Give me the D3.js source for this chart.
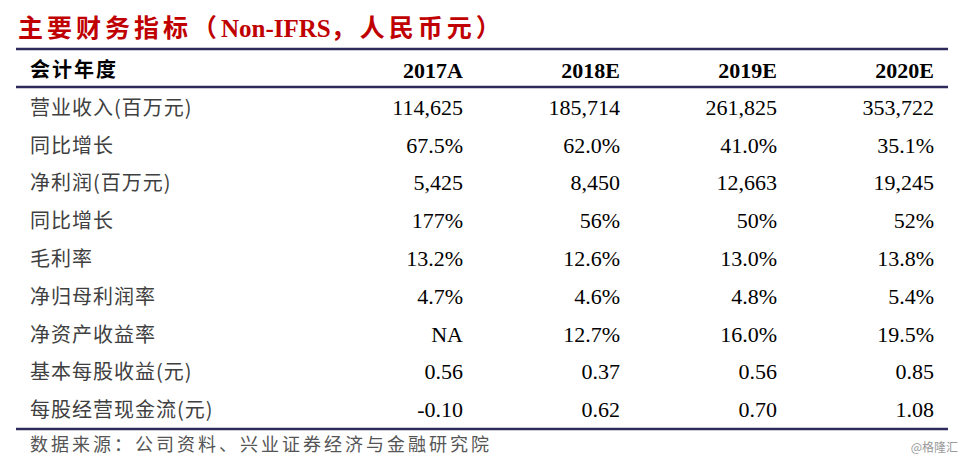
<!DOCTYPE html>
<html><head><meta charset="utf-8">
<script src="https://cdn.jsdelivr.net/npm/d3@7"></script>
<style>body{margin:0;background:#fff}</style>
</head><body>
<script>
var years = ["2017A", "2018E", "2019E", "2020E"];
var rowLabels = ["营业收入(百万元)", "同比增长", "净利润(百万元)", "同比增长", "毛利率", "净归母利润率", "净资产收益率", "基本每股收益(元)", "每股经营现金流(元)"];
var values = [
    ["114,625", "185,714", "261,825", "353,722"],
    ["67.5%", "62.0%", "41.0%", "35.1%"],
    ["5,425", "8,450", "12,663", "19,245"],
    ["177%", "56%", "50%", "52%"],
    ["13.2%", "12.6%", "13.0%", "13.8%"],
    ["4.7%", "4.6%", "4.8%", "5.4%"],
    ["NA", "12.7%", "16.0%", "19.5%"],
    ["0.56", "0.37", "0.56", "0.85"],
    ["-0.10", "0.62", "0.70", "1.08"]
];

var W = 966, H = 463;
var cjk = "'Noto Sans CJK SC', sans-serif";
var serif = "'Liberation Serif', 'Times New Roman', serif";
var svg = d3.select("body").append("svg").attr("width", W).attr("height", H);

var x = d3.scalePoint().domain(years).range([463, 934]);
var y = d3.scaleBand().domain(d3.range(rowLabels.length)).range([88, 428]);

svg.append("text").attr("x", 18).attr("y", 37)
    .attr("fill", "#c00000").attr("font-size", 25).attr("font-weight", "bold")
    .selectAll("tspan").data([["主要财务指标（", cjk, 4], ["Non-IFRS", serif, 0], ["，人民币元）", cjk, 4]])
    .enter().append("tspan").attr("font-family", function (d) { return d[1]; })
    .attr("letter-spacing", function (d) { return d[2]; }).text(function (d) { return d[0]; });

[49, 87, 429].forEach(function (ly) {
    svg.append("line").attr("x1", 16).attr("x2", 948).attr("y1", ly).attr("y2", ly)
        .attr("stroke", "#2e2a5e").attr("stroke-width", 2.5);
});

svg.append("text").attr("x", 30).attr("y", 77).attr("font-family", cjk).attr("font-size", 20)
    .attr("letter-spacing", 2).attr("font-weight", "bold").attr("fill", "#000").text("会计年度");
svg.selectAll(".yr").data(years).enter().append("text")
    .attr("x", function (d) { return x(d); }).attr("y", 78).attr("text-anchor", "end")
    .attr("font-family", serif).attr("font-size", 22).attr("font-weight", "bold").text(function (d) { return d; });

var rows = svg.selectAll(".row").data(rowLabels).enter().append("g")
    .attr("transform", function (d, i) { return "translate(0," + (y(i) + y.bandwidth() / 2 + 8) + ")"; });
rows.append("text").attr("x", 30).attr("font-family", cjk).attr("font-size", 20).attr("fill", "#404040")
    .attr("letter-spacing", 1).text(function (d) { return d; });
rows.each(function (d, i) {
    d3.select(this).selectAll(".v").data(values[i]).enter().append("text")
        .attr("x", function (v, j) { return x(years[j]); }).attr("text-anchor", "end")
        .attr("font-family", serif).attr("font-size", 22).attr("fill", "#000").text(function (v) { return v; });
});

svg.append("text").attr("x", 30).attr("y", 451).attr("font-family", cjk).attr("font-size", 18)
    .attr("letter-spacing", 3).attr("fill", "#555").text("数据来源：公司资料、兴业证券经济与金融研究院");
svg.append("text").attr("x", 958).attr("y", 452).attr("text-anchor", "end").attr("font-family", cjk)
    .attr("font-size", 12).attr("fill", "#999").text("@格隆汇");
</script>
</body></html>
